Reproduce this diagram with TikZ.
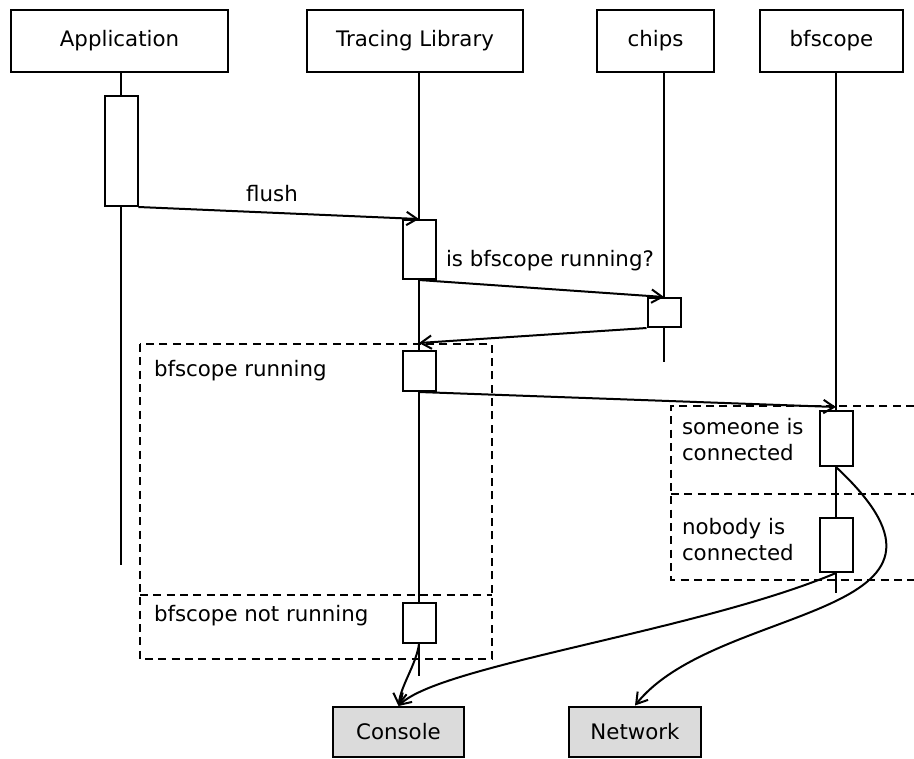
\documentclass[tikz,border=0pt]{standalone}
\usepackage{fontspec}
\setmainfont{DejaVu Sans}
\usepackage{tikz}
\usetikzlibrary{arrows.meta}

\begin{document}
\begin{tikzpicture}[x=0.75pt,y=-0.75pt,>={Straight Barb[length=8pt,width=10pt]},
  line width=1.5pt,font=\fontsize{16}{19.5}\selectfont,
  actor/.style={draw,minimum height=46.5pt,inner sep=0pt},
  act/.style={draw,fill=white,minimum width=24.75pt,inner sep=0pt},
  outlet/.style={draw,fill=black!14,minimum width=98.5pt,minimum height=37.5pt,inner sep=0pt},
  frame/.style={dash pattern=on 6pt off 4pt},
  lbl/.style={inner sep=0pt}]
\useasboundingbox (0,0) rectangle (914,758);
% participants
\node[actor,minimum width=162.75pt] (appl) at (119.5,41) {Application};
\node[actor,minimum width=162pt] (trace) at (415,41) {Tracing Library};
\node[actor,minimum width=87.75pt] (chips) at (655.5,41) {chips};
\node[actor,minimum width=107.25pt] (scope) at (831.5,41) {bfscope};
\coordinate (endA) at (121,565);
\coordinate (endT) at (419,676);
\coordinate (endC) at (664,362);
\coordinate (endB) at (836,593);
\draw (appl.south -| endA) -- (endA);
\draw (trace.south -| endT) -- (endT);
\draw (chips.south -| endC) -- (endC);
\draw (scope.south -| endB) -- (endB);
% alternatives
\draw[frame] (140,344) rectangle (492,659);
\draw[frame] (140,595) -- (492,595);
\draw[frame] (914,406) -| (671,580) -- (914,580);
\draw[frame] (671,494) -- (914,494);
\node[lbl,anchor=west] (lrun) at (153,371) {bfscope running};
\node[lbl,anchor=west] (lnot) at (153,616) {bfscope not running};
\node[lbl,anchor=north west,align=left] (lsome) at (681,417) {someone is\\connected};
\node[lbl,anchor=north west,align=left] (lnone) at (681,517) {nobody is\\connected};
% activations
\node[act,minimum height=82.5pt] (aApp) at (121,151) {};
\node[act,minimum height=44.25pt] (aTr1) at (419,249.5) {};
\node[act,minimum height=21.75pt] (aCh) at (664,312.5) {};
\node[act,minimum height=30pt] (aTr2) at (419,371) {};
\node[act,minimum height=41.25pt] (aBf1) at (836,438.5) {};
\node[act,minimum height=40.5pt] (aBf2) at (836,545) {};
\node[act,minimum height=30pt] (aTr3) at (419,623) {};
\node[outlet] (cons) at (398.5,732) {Console};
\node[outlet] (net) at (635,731.5) {Network};
% messages
\node (flush) at (272,194) {flush};
\node[lbl,anchor=west] (ask) at (445,261) {is bfscope running?};
\coordinate (back) at (419,343);
\coordinate (hit) at (836,407);
\draw[->] (aApp.south east) -- (aTr1.north);
\draw[->] (aTr1.south) -- (aCh.north);
\draw[->] (aCh.south west) -- (back);
\draw[->] (aTr2.south) -- (hit);
\draw[->] (aTr3.south) .. controls (416,665) and (401,685) .. (cons.north);
\draw[->] (aBf2.south) .. controls (698,631) and (440,665) .. (cons.north);
\draw[->] (aBf1.south) .. controls (1000,620) and (718,602) .. (net.north);
\end{tikzpicture}
\end{document}
